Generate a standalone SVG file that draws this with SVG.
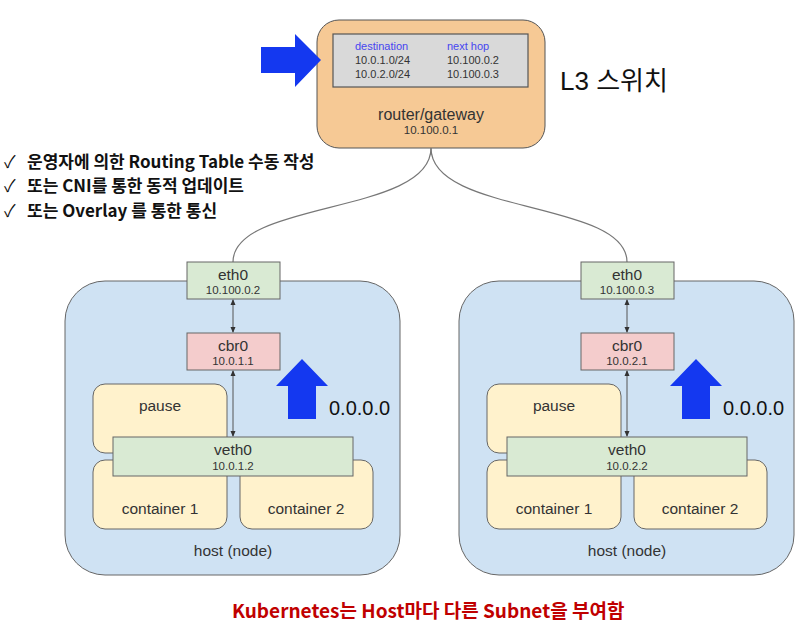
<svg xmlns="http://www.w3.org/2000/svg" width="799" height="638" viewBox="0 0 799 638">
<defs>
<style>
.t{font-family:"Liberation Sans","Noto Sans CJK KR",sans-serif;fill:#333;text-anchor:middle}
.big{font-size:15.5px}
.sm{font-size:11.5px}
.tb{font-family:"Liberation Sans",sans-serif;font-size:11px;fill:#333}
.hd{fill:#4646f0}
.ln{fill:none;stroke:#555;stroke-width:1}
.wire{fill:none;stroke:#777;stroke-width:1.2}
.box{stroke:#666;stroke-width:1}
.green{fill:#d9ead3}
.pink{fill:#f4cccc}
.yel{fill:#fff2cc}
.host{fill:#cfe2f3;stroke:#666;stroke-width:1}
.blue{fill:#1438f0}
.kr{font-family:"Noto Sans CJK KR","Liberation Sans",sans-serif}
.ip{font-family:"Liberation Sans",sans-serif;font-size:20px;fill:#111}
</style>
<marker id="ah" viewBox="0 0 6 6" refX="5" refY="3" markerWidth="6" markerHeight="6" orient="auto-start-reverse">
<path d="M0,0.5 L6,3 L0,5.5 z" fill="#333"/>
</marker>
</defs>
<rect width="799" height="638" fill="#fff"/>

<g id="host-left">
<rect class="host" x="65" y="281" width="335" height="294" rx="40"/>
<text class="t big" x="233" y="556">host (node)</text>
</g>
<g id="host-right">
<rect class="host" x="459" y="281" width="335" height="294" rx="40"/>
<text class="t big" x="627" y="556">host (node)</text>
</g>

<g id="router">
<rect x="317" y="20" width="228" height="128" rx="22" fill="#f6c995" stroke="#555" stroke-width="1"/>
<rect x="333" y="34" width="195" height="53" fill="#d9d9d9" stroke="#555" stroke-width="1.2"/>
<text class="tb hd" x="355" y="50">destination</text>
<text class="tb hd" x="447" y="50">next hop</text>
<text class="tb" x="355" y="64">10.0.1.0/24</text>
<text class="tb" x="447" y="64">10.100.0.2</text>
<text class="tb" x="355" y="78">10.0.2.0/24</text>
<text class="tb" x="447" y="78">10.100.0.3</text>
<text class="t" style="font-size:16px" x="431" y="120">router/gateway</text>
<text class="t sm" x="431" y="134">10.100.0.1</text>
</g>

<g id="connectors">
<path class="wire" d="M431,148 C431,215 233,200 233,262"/>
<path class="wire" d="M431,148 C431,215 627,200 627,262"/>
<line class="ln" x1="233" y1="300" x2="233" y2="332" marker-start="url(#ah)" marker-end="url(#ah)"/>
<line class="ln" x1="233" y1="371" x2="233" y2="436" marker-start="url(#ah)" marker-end="url(#ah)"/>
<line class="ln" x1="627" y1="300" x2="627" y2="332" marker-start="url(#ah)" marker-end="url(#ah)"/>
<line class="ln" x1="627" y1="371" x2="627" y2="436" marker-start="url(#ah)" marker-end="url(#ah)"/>
</g>

<g id="eth0-left">
<rect class="box green" x="187" y="262" width="93" height="37"/>
<text class="t big" x="233" y="280">eth0</text>
<text class="t sm" x="233" y="294">10.100.0.2</text>
</g>
<g id="cbr0-left">
<rect class="box pink" x="187" y="333" width="93" height="37"/>
<text class="t big" x="233" y="351">cbr0</text>
<text class="t sm" x="233" y="365">10.0.1.1</text>
</g>
<g id="pause-left">
<rect class="box yel" x="93" y="384" width="134" height="69" rx="12"/>
<text class="t big" x="160" y="411">pause</text>
</g>
<g id="container1-left">
<rect class="box yel" x="93" y="460" width="134" height="69" rx="12"/>
<text class="t big" x="160" y="514">container 1</text>
</g>
<g id="container2-left">
<rect class="box yel" x="240" y="460" width="133" height="69" rx="12"/>
<text class="t big" x="306" y="514">container 2</text>
</g>
<g id="veth0-left">
<rect class="box green" x="113" y="437" width="240" height="39"/>
<text class="t big" x="233" y="455">veth0</text>
<text class="t sm" x="233" y="470">10.0.1.2</text>
</g>
<g id="arrow-left">
<path class="blue" d="M302,359 L328,386 L316,386 L316,419 L288,419 L288,386 L276,386 z"/>
<text class="ip" x="329" y="415">0.0.0.0</text>
</g>

<g id="eth0-right">
<rect class="box green" x="581" y="262" width="93" height="37"/>
<text class="t big" x="627" y="280">eth0</text>
<text class="t sm" x="627" y="294">10.100.0.3</text>
</g>
<g id="cbr0-right">
<rect class="box pink" x="581" y="333" width="93" height="37"/>
<text class="t big" x="627" y="351">cbr0</text>
<text class="t sm" x="627" y="365">10.0.2.1</text>
</g>
<g id="pause-right">
<rect class="box yel" x="487" y="384" width="134" height="69" rx="12"/>
<text class="t big" x="554" y="411">pause</text>
</g>
<g id="container1-right">
<rect class="box yel" x="487" y="460" width="134" height="69" rx="12"/>
<text class="t big" x="554" y="514">container 1</text>
</g>
<g id="container2-right">
<rect class="box yel" x="634" y="460" width="133" height="69" rx="12"/>
<text class="t big" x="700" y="514">container 2</text>
</g>
<g id="veth0-right">
<rect class="box green" x="507" y="437" width="240" height="39"/>
<text class="t big" x="627" y="455">veth0</text>
<text class="t sm" x="627" y="470">10.0.2.2</text>
</g>
<g id="arrow-right">
<path class="blue" d="M696,359 L722,386 L710,386 L710,419 L682,419 L682,386 L670,386 z"/>
<text class="ip" x="723" y="415">0.0.0.0</text>
</g>

<g id="arrow-router">
<path class="blue" d="M261,47 L295,47 L295,34 L321,60 L295,87 L295,73 L261,73 z"/>
</g>

<text x="560" y="90" style="font-family:'Liberation Sans','Noto Sans CJK KR',sans-serif;font-size:26px;fill:#111">L3 스위치</text>

<g id="notes" class="kr" style="font-size:17px;font-weight:bold;fill:#111">
<text x="4" y="168" style="font-weight:normal">✓</text>
<text x="27" y="168">운영자에 의한 Routing Table 수동 작성</text>
<text x="4" y="192" style="font-weight:normal">✓</text>
<text x="27" y="192">또는 CNI를 통한 동적 업데이트</text>
<text x="4" y="217" style="font-weight:normal">✓</text>
<text x="27" y="217">또는 Overlay 를 통한 통신</text>
</g>

<text x="232" y="618" class="kr" style="font-size:19px;font-weight:bold;fill:#c00000">Kubernetes는 Host마다 다른 Subnet을 부여함</text>
</svg>
